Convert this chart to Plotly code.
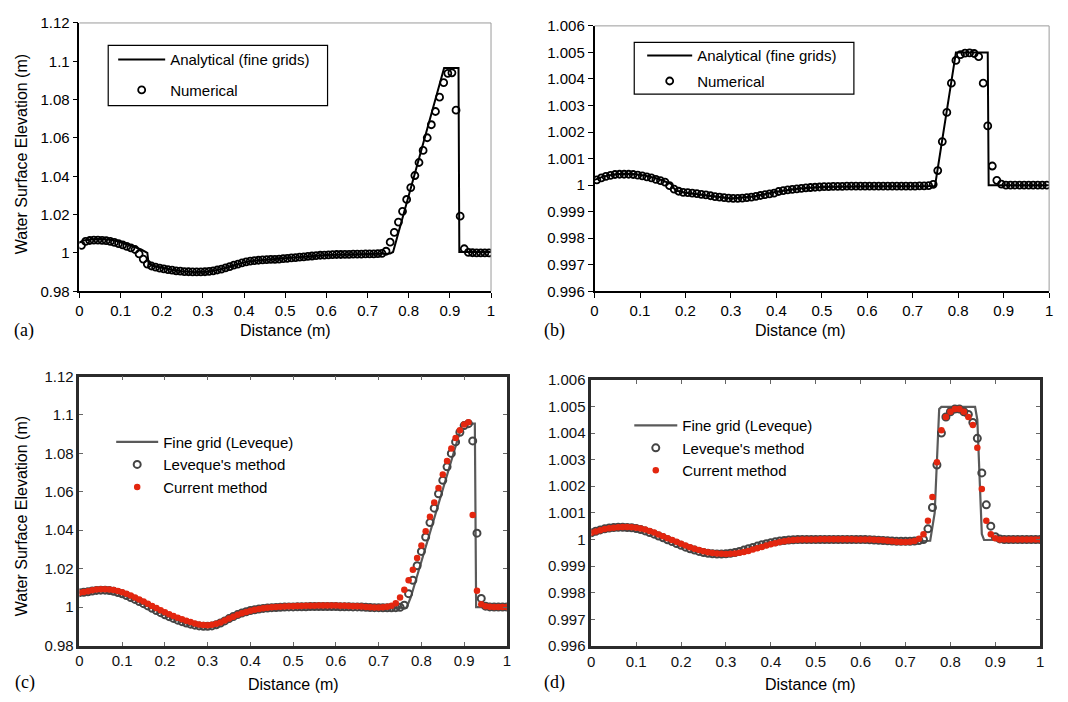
import plotly.graph_objects as go

W, H = 1068, 702

# ---------------- data ----------------
X_AB = [0.005, 0.015, 0.025, 0.035, 0.045, 0.055, 0.065, 0.075, 0.085, 0.095,
        0.105, 0.115, 0.125, 0.135, 0.145, 0.155, 0.165, 0.175, 0.185, 0.195,
        0.205, 0.215, 0.225, 0.235, 0.245, 0.255, 0.265, 0.275, 0.285, 0.295,
        0.305, 0.315, 0.325, 0.335, 0.345, 0.355, 0.365, 0.375, 0.385, 0.395,
        0.405, 0.415, 0.425, 0.435, 0.445, 0.455, 0.465, 0.475, 0.485, 0.495,
        0.505, 0.515, 0.525, 0.535, 0.545, 0.555, 0.565, 0.575, 0.585, 0.595,
        0.605, 0.615, 0.625, 0.635, 0.645, 0.655, 0.665, 0.675, 0.685, 0.695,
        0.705, 0.715, 0.725, 0.735, 0.745, 0.755, 0.765, 0.775, 0.785, 0.795,
        0.805, 0.815, 0.825, 0.835, 0.845, 0.855, 0.865, 0.875, 0.885, 0.895,
        0.905, 0.915, 0.925, 0.935, 0.945, 0.955, 0.965, 0.975, 0.985, 0.995]

A_NUM = [1.0040, 1.0060, 1.0065, 1.0067, 1.0067, 1.0066, 1.0064, 1.0060, 1.0055, 1.0049,
         1.0042, 1.0034, 1.0026, 1.0018, 0.9995, 0.9968, 0.9942, 0.9932, 0.9926, 0.9921,
         0.9917, 0.9913, 0.9910, 0.9907, 0.9905, 0.9903, 0.9902, 0.9901, 0.9901, 0.9901,
         0.9902, 0.9904, 0.9907, 0.9911, 0.9916, 0.9922, 0.9929, 0.9936, 0.9942, 0.9948,
         0.9953, 0.9957, 0.9960, 0.9962, 0.9964, 0.9965, 0.9966, 0.9967, 0.9968, 0.9970,
         0.9972, 0.9974, 0.9976, 0.9978, 0.9980, 0.9982, 0.9984, 0.9986, 0.9988, 0.9989,
         0.9990, 0.9991, 0.9992, 0.9992, 0.9993, 0.9993, 0.9994, 0.9994, 0.9994, 0.9995,
         0.9995, 0.9995, 0.9996, 0.9998, 1.0009, 1.0056, 1.0107, 1.0161, 1.0217, 1.0279,
         1.0341, 1.0404, 1.0472, 1.0535, 1.0601, 1.0669, 1.0738, 1.0813, 1.0889, 1.0937,
         1.0940, 1.0745, 1.0192, 1.0022, 1.0003, 1.0001, 1.0000, 1.0000, 1.0000, 1.0000]

A_LINE_X = [0, 0.01, 0.03, 0.05, 0.07, 0.09, 0.11, 0.13, 0.15, 0.165, 0.168, 0.18, 0.2, 0.22,
            0.25, 0.28, 0.31, 0.34, 0.37, 0.4, 0.43, 0.46, 0.5, 0.55, 0.6, 0.65, 0.7, 0.755,
            0.762, 0.886, 0.921, 0.923, 1.0]
A_LINE_Y = [1.0055, 1.0065, 1.0072, 1.0073, 1.0070, 1.0062, 1.0050, 1.0035, 1.0018, 1.0000,
            0.9945, 0.9932, 0.9922, 0.9914, 0.9905, 0.9900, 0.9902, 0.9913, 0.9932, 0.9951,
            0.9961, 0.9966, 0.9970, 0.9981, 0.9989, 0.9992, 0.9994, 0.9997, 1.0005, 1.0965,
            1.0965, 1.0005, 1.0005]

B_NUM = [1.00020, 1.00027, 1.00033, 1.00037, 1.00040, 1.00041, 1.00041, 1.00041, 1.00040, 1.00038,
         1.00035, 1.00031, 1.00027, 1.00022, 1.00017, 1.00011, 0.99998, 0.99985, 0.99977, 0.99973,
         0.99972, 0.99970, 0.99968, 0.99965, 0.99963, 0.99960, 0.99957, 0.99955, 0.99953, 0.99951,
         0.99950, 0.99950, 0.99951, 0.99953, 0.99955, 0.99958, 0.99961, 0.99964, 0.99967, 0.99970,
         0.99976, 0.99979, 0.99982, 0.99984, 0.99986, 0.99988, 0.99990, 0.99991, 0.99992, 0.99993,
         0.99994, 0.99994, 0.99995, 0.99995, 0.99995, 0.99996, 0.99996, 0.99996, 0.99996, 0.99996,
         0.99996, 0.99996, 0.99996, 0.99996, 0.99996, 0.99996, 0.99996, 0.99996, 0.99996, 0.99996,
         0.99996, 0.99997, 0.99997, 0.99998, 1.00003, 1.00055, 1.00164, 1.00274, 1.00384, 1.00470,
         1.00492, 1.00497, 1.00498, 1.00496, 1.00484, 1.00384, 1.00223, 1.00072, 1.00018, 1.00004,
         1.00000, 1.00000, 1.00000, 1.00000, 1.00000, 1.00000, 1.00000, 1.00000, 1.00000, 1.00000]

B_LINE_X = [0, 0.02, 0.05, 0.08, 0.11, 0.14, 0.168, 0.178, 0.2, 0.25, 0.3, 0.35, 0.4, 0.45,
            0.5, 0.6, 0.749, 0.795, 0.865, 0.867, 1.0]
B_LINE_Y = [1.00020, 1.00033, 1.00042, 1.00043, 1.00036, 1.00024, 1.00005, 0.99980, 0.99971,
            0.99960, 0.99950, 0.99957, 0.99975, 0.99987, 0.99993, 0.99996, 0.99997, 1.00500,
            1.00500, 1.00000, 1.00000]

X_CD = [0.00, 0.01, 0.02, 0.03, 0.04, 0.05, 0.06, 0.07, 0.08, 0.09,
        0.10, 0.11, 0.12, 0.13, 0.14, 0.15, 0.16, 0.17, 0.18, 0.19,
        0.20, 0.21, 0.22, 0.23, 0.24, 0.25, 0.26, 0.27, 0.28, 0.29,
        0.30, 0.31, 0.32, 0.33, 0.34, 0.35, 0.36, 0.37, 0.38, 0.39,
        0.40, 0.41, 0.42, 0.43, 0.44, 0.45, 0.46, 0.47, 0.48, 0.49,
        0.50, 0.51, 0.52, 0.53, 0.54, 0.55, 0.56, 0.57, 0.58, 0.59,
        0.60, 0.61, 0.62, 0.63, 0.64, 0.65, 0.66, 0.67, 0.68, 0.69,
        0.70, 0.71, 0.72, 0.73, 0.74, 0.75, 0.76, 0.77, 0.78, 0.79,
        0.80, 0.81, 0.82, 0.83, 0.84, 0.85, 0.86, 0.87, 0.88, 0.89,
        0.90, 0.91, 0.92, 0.93, 0.94, 0.95, 0.96, 0.97, 0.98, 0.99, 1.00]

C_CUR = [1.0075, 1.0078, 1.0083, 1.0088, 1.0091, 1.0093, 1.0093, 1.0092, 1.0089, 1.0084,
         1.0077, 1.0069, 1.0060, 1.0050, 1.0040, 1.0029, 1.0018, 1.0006, 0.9995, 0.9984,
         0.9973, 0.9963, 0.9954, 0.9945, 0.9937, 0.9929, 0.9922, 0.9915, 0.9910, 0.9907,
         0.9906, 0.9908, 0.9913, 0.9920, 0.9930, 0.9940, 0.9950, 0.9960, 0.9968, 0.9975,
         0.9981, 0.9986, 0.9990, 0.9994, 0.9997, 0.9999, 1.0001, 1.0002, 1.0003, 1.0004,
         1.0005, 1.0006, 1.0006, 1.0007, 1.0007, 1.0007, 1.0008, 1.0008, 1.0008, 1.0008,
         1.0008, 1.0007, 1.0007, 1.0006, 1.0005, 1.0004, 1.0003, 1.0001, 0.9999, 0.9998,
         0.9998, 0.9999, 1.0002, 1.0007, 1.0020, 1.0050, 1.0090, 1.0140, 1.0195, 1.0255,
         1.0320, 1.0395, 1.0470, 1.0545, 1.0620, 1.0690, 1.0760, 1.0825, 1.0880, 1.0920,
         1.0950, 1.0962, 1.0480, 1.0085, 1.0015, 1.0005, 1.0002, 1.0001, 1.0000, 1.0000, 1.0000]

C_LEV = [1.0075, 1.0077, 1.0080, 1.0084, 1.0087, 1.0088, 1.0088, 1.0086, 1.0082, 1.0076,
         1.0069, 1.0060, 1.0050, 1.0040, 1.0029, 1.0018, 1.0006, 0.9994, 0.9982, 0.9971,
         0.9960, 0.9950, 0.9941, 0.9932, 0.9924, 0.9917, 0.9911, 0.9906, 0.9902, 0.9900,
         0.9900, 0.9902, 0.9908, 0.9917, 0.9928, 0.9940, 0.9951, 0.9961, 0.9969, 0.9976,
         0.9982, 0.9986, 0.9990, 0.9993, 0.9995, 0.9997, 0.9998, 0.9999, 1.0000, 1.0001,
         1.0001, 1.0002, 1.0002, 1.0002, 1.0003, 1.0003, 1.0003, 1.0003, 1.0003, 1.0003,
         1.0003, 1.0002, 1.0002, 1.0002, 1.0001, 1.0001, 1.0000, 0.9999, 0.9998, 0.9997,
         0.9997, 0.9996, 0.9996, 0.9996, 0.9997, 0.9999, 1.0010, 1.0070, 1.0140, 1.0215,
         1.0290, 1.0365, 1.0440, 1.0515, 1.0590, 1.0660, 1.0730, 1.0800, 1.0860, 1.0910,
         1.0945, 1.0955, 1.0865, 1.0385, 1.0045, 1.0005, 1.0001, 1.0000, 1.0000, 1.0000, 1.0000]

C_LINE_X = [0, 0.025, 0.05, 0.075, 0.1, 0.125, 0.15, 0.175, 0.2, 0.225, 0.25, 0.275, 0.3, 0.325,
            0.35, 0.375, 0.4, 0.45, 0.5, 0.6, 0.7, 0.765, 0.775, 0.895, 0.905, 0.925, 0.928, 1.0]
C_LINE_Y = [1.0075, 1.0082, 1.0086, 1.0080, 1.0068, 1.0046, 1.0020, 0.9990, 0.9961, 0.9937,
            0.9918, 0.9904, 0.9900, 0.9906, 0.9936, 0.9960, 0.9976, 0.9995, 1.0001, 1.0002,
            0.9997, 0.9996, 1.0050, 1.0950, 1.0955, 1.0955, 1.0000, 1.0000]

D_CUR = [1.00025, 1.00030, 1.00035, 1.00039, 1.00042, 1.00044, 1.00046, 1.00047, 1.00047, 1.00046,
         1.00044, 1.00041, 1.00037, 1.00032, 1.00026, 1.00019, 1.00012, 1.00005, 0.99998, 0.99991,
         0.99984, 0.99977, 0.99971, 0.99965, 0.99960, 0.99956, 0.99952, 0.99949, 0.99947, 0.99946,
         0.99945, 0.99946, 0.99947, 0.99950, 0.99953, 0.99957, 0.99962, 0.99967, 0.99972, 0.99977,
         0.99982, 0.99986, 0.99990, 0.99993, 0.99996, 0.99998, 0.99999, 1.00000, 1.00000, 1.00000,
         1.00000, 1.00001, 1.00001, 1.00001, 1.00001, 1.00001, 1.00001, 1.00001, 1.00001, 1.00000,
         1.00000, 1.00000, 1.00000, 0.99999, 0.99998, 0.99997, 0.99995, 0.99993, 0.99991, 0.99990,
         0.99990, 0.99991, 0.99994, 1.00003, 1.00020, 1.00070, 1.00160, 1.00290, 1.00410, 1.00460,
         1.00480, 1.00490, 1.00490, 1.00480, 1.00460, 1.00430, 1.00345, 1.00190, 1.00070, 1.00020,
         1.00005, 1.00000, 1.00000, 1.00000, 1.00000, 1.00000, 1.00000, 1.00000, 1.00000, 1.00000, 1.00000]

D_LEV = [1.00025, 1.00031, 1.00036, 1.00040, 1.00043, 1.00045, 1.00046, 1.00046, 1.00045, 1.00044,
         1.00041, 1.00037, 1.00032, 1.00026, 1.00020, 1.00013, 1.00006, 0.99999, 0.99992, 0.99985,
         0.99978, 0.99971, 0.99965, 0.99960, 0.99955, 0.99951, 0.99948, 0.99946, 0.99945, 0.99945,
         0.99946, 0.99948, 0.99951, 0.99955, 0.99960, 0.99965, 0.99970, 0.99975, 0.99980, 0.99984,
         0.99988, 0.99991, 0.99994, 0.99996, 0.99998, 0.99999, 1.00000, 1.00000, 1.00000, 1.00000,
         1.00000, 1.00000, 1.00000, 1.00000, 1.00000, 1.00000, 1.00000, 1.00000, 1.00000, 1.00000,
         1.00000, 1.00000, 0.99999, 0.99998, 0.99997, 0.99996, 0.99995, 0.99994, 0.99993, 0.99993,
         0.99993, 0.99993, 0.99994, 0.99996, 1.00000, 1.00040, 1.00120, 1.00280, 1.00400, 1.00460,
         1.00480, 1.00490, 1.00490, 1.00480, 1.00470, 1.00440, 1.00380, 1.00250, 1.00130, 1.00050,
         1.00010, 1.00002, 1.00000, 1.00000, 1.00000, 1.00000, 1.00000, 1.00000, 1.00000, 1.00000, 1.00000]

D_LINE_X = [0, 0.025, 0.05, 0.075, 0.1, 0.125, 0.15, 0.175, 0.2, 0.225, 0.25, 0.275, 0.3, 0.325,
            0.35, 0.375, 0.4, 0.45, 0.5, 0.6, 0.7, 0.755, 0.765, 0.775, 0.78, 0.855, 0.86, 0.87,
            0.875, 1.0]
D_LINE_Y = [1.00025, 1.00036, 1.00044, 1.00046, 1.00043, 1.00033, 1.00019, 1.00001, 0.99983,
            0.99967, 0.99955, 0.99948, 0.99945, 0.99948, 0.99957, 0.99970, 0.99982, 0.99998,
            1.00000, 1.00000, 0.99993, 0.99995, 1.00100, 1.00490, 1.00498, 1.00498, 1.00450,
            1.00020, 0.99998, 1.00000]

X_TICKS = [0, 0.1, 0.2, 0.3, 0.4, 0.5, 0.6, 0.7, 0.8, 0.9, 1]
X_TICKTEXT = ["0", "0.1", "0.2", "0.3", "0.4", "0.5", "0.6", "0.7", "0.8", "0.9", "1"]
Y_TICKS_AC = [0.98, 1.0, 1.02, 1.04, 1.06, 1.08, 1.1, 1.12]
Y_TICKTEXT_AC = ["0.98", "1", "1.02", "1.04", "1.06", "1.08", "1.1", "1.12"]
Y_TICKS_BD = [0.996, 0.997, 0.998, 0.999, 1.0, 1.001, 1.002, 1.003, 1.004, 1.005, 1.006]
Y_TICKTEXT_BD = ["0.996", "0.997", "0.998", "0.999", "1", "1.001", "1.002", "1.003",
                 "1.004", "1.005", "1.006"]

# ---------------- layout helpers ----------------
FONT = "Liberation Sans, Arial, sans-serif"
SERIF = "Liberation Serif, Times New Roman, serif"


def px_x(v):
    return v / W


def px_y(v):
    return 1 - v / H


DOM = {
    "a": ([76, 490.7], [289.3, 14.3]),
    "b": ([595, 1053], [289.3, 17.3]),
    "c": ([76, 506.7], [652.3, 376.7]),
    "d": ([591.7, 1044], [652.7, 380]),
}


def dom(key):
    xs, ys = DOM[key]
    return [px_x(xs[0]), px_x(xs[1])], [px_y(ys[0]), px_y(ys[1])]


def axis_ab(domain, anchor, tickvals, ticktext, rng):
    return dict(domain=domain, anchor=anchor, range=rng, showline=True, linecolor="black",
                linewidth=1.5, ticks="outside", ticklen=5, tickwidth=1.2, tickcolor="black",
                showgrid=False, zeroline=False, tickvals=tickvals, ticktext=ticktext,
                tickfont=dict(family=FONT, size=15, color="black"), mirror=False)


def axis_cd(domain, anchor, tickvals, ticktext, rng):
    return dict(domain=domain, anchor=anchor, range=rng, showline=True, linecolor="#2b2b2b",
                linewidth=2.5, ticks="inside", ticklen=4, tickwidth=1, tickcolor="#666666",
                showgrid=False, zeroline=False, tickvals=tickvals, ticktext=ticktext,
                tickfont=dict(family=FONT, size=15, color="#111111"), mirror="ticks")


fig = go.Figure()

# (a)
fig.add_trace(go.Scatter(x=A_LINE_X, y=A_LINE_Y, mode="lines", name="Analytical (fine grids)",
                         line=dict(color="black", width=2), xaxis="x", yaxis="y",
                         legend="legend", legendgroup="a1"))
fig.add_trace(go.Scatter(x=X_AB, y=A_NUM, mode="markers", name="Numerical",
                         marker=dict(symbol="circle-open", size=7, color="black",
                                     line=dict(width=1.8, color="black")),
                         xaxis="x", yaxis="y", legend="legend", legendgroup="a2"))
# (b)
fig.add_trace(go.Scatter(x=B_LINE_X, y=B_LINE_Y, mode="lines", name="Analytical (fine grids)",
                         line=dict(color="black", width=2), xaxis="x2", yaxis="y2",
                         legend="legend2", legendgroup="b1"))
fig.add_trace(go.Scatter(x=X_AB, y=B_NUM, mode="markers", name="Numerical",
                         marker=dict(symbol="circle-open", size=7, color="black",
                                     line=dict(width=1.8, color="black")),
                         xaxis="x2", yaxis="y2", legend="legend2", legendgroup="b2"))
# (c)
fig.add_trace(go.Scatter(x=C_LINE_X, y=C_LINE_Y, mode="lines", name="Fine grid (Leveque)",
                         line=dict(color="#5a5a5a", width=2.2), xaxis="x3", yaxis="y3",
                         legend="legend3", legendgroup="c1"))
fig.add_trace(go.Scatter(x=X_CD, y=C_LEV, mode="markers", name="Leveque's method",
                         marker=dict(symbol="circle-open", size=7, color="#444444",
                                     line=dict(width=2, color="#444444")),
                         xaxis="x3", yaxis="y3", legend="legend3", legendgroup="c2"))
fig.add_trace(go.Scatter(x=X_CD, y=C_CUR, mode="markers", name="Current method",
                         marker=dict(symbol="circle", size=6.5, color="#e3260f"),
                         xaxis="x3", yaxis="y3", legend="legend3", legendgroup="c3"))
# (d)
fig.add_trace(go.Scatter(x=D_LINE_X, y=D_LINE_Y, mode="lines", name="Fine grid (Leveque)",
                         line=dict(color="#5a5a5a", width=2.2), xaxis="x4", yaxis="y4",
                         legend="legend4", legendgroup="d1"))
fig.add_trace(go.Scatter(x=X_CD, y=D_LEV, mode="markers", name="Leveque's method",
                         marker=dict(symbol="circle-open", size=7, color="#444444",
                                     line=dict(width=2, color="#444444")),
                         xaxis="x4", yaxis="y4", legend="legend4", legendgroup="d2"))
fig.add_trace(go.Scatter(x=X_CD, y=D_CUR, mode="markers", name="Current method",
                         marker=dict(symbol="circle", size=6.5, color="#e3260f"),
                         xaxis="x4", yaxis="y4", legend="legend4", legendgroup="d3"))

da_x, da_y = dom("a")
db_x, db_y = dom("b")
dc_x, dc_y = dom("c")
dd_x, dd_y = dom("d")

layout = dict(
    width=W, height=H, margin=dict(l=0, r=0, t=0, b=0),
    paper_bgcolor="white", plot_bgcolor="white",
    font=dict(family=FONT, size=15, color="black"),
    xaxis=axis_ab(da_x, "y", X_TICKS, X_TICKTEXT, [0, 1]),
    yaxis=axis_ab(da_y, "x", Y_TICKS_AC, Y_TICKTEXT_AC, [0.98, 1.12]),
    xaxis2=axis_ab(db_x, "y2", X_TICKS, X_TICKTEXT, [0, 1]),
    yaxis2=axis_ab(db_y, "x2", Y_TICKS_BD, Y_TICKTEXT_BD, [0.996, 1.006]),
    xaxis3=axis_cd(dc_x, "y3", X_TICKS, X_TICKTEXT, [0, 1]),
    yaxis3=axis_cd(dc_y, "x3", Y_TICKS_AC, Y_TICKTEXT_AC, [0.98, 1.12]),
    xaxis4=axis_cd(dd_x, "y4", X_TICKS, X_TICKTEXT, [0, 1]),
    yaxis4=axis_cd(dd_y, "x4", Y_TICKS_BD, Y_TICKTEXT_BD, [0.996, 1.006]),
    showlegend=True,
)


def legend_cfg(x, y, itemwidth, gap):
    return dict(x=px_x(x), y=px_y(y), xanchor="left", yanchor="top", bgcolor="rgba(0,0,0,0)",
                borderwidth=0, itemwidth=itemwidth, tracegroupgap=gap, traceorder="grouped",
                font=dict(family=FONT, size=15, color="black"), itemclick=False)


layout["legend"] = legend_cfg(110, 35, 47, 8)
layout["legend2"] = legend_cfg(643, 31, 45, 3)
layout["legend3"] = legend_cfg(108, 427, 42, 0)
layout["legend4"] = legend_cfg(630, 410, 43, 0)

shapes = []
# gray top/right border for (a),(b)
for xr, yr in (("x domain", "y domain"), ("x2 domain", "y2 domain")):
    shapes.append(dict(type="line", xref=xr, yref=yr, x0=0, x1=1, y0=1, y1=1,
                       line=dict(color="#9a9a9a", width=1)))
    shapes.append(dict(type="line", xref=xr, yref=yr, x0=1, x1=1, y0=0, y1=1,
                       line=dict(color="#9a9a9a", width=1)))
# legend boxes of (a),(b)
shapes.append(dict(type="rect", xref="paper", yref="paper", x0=px_x(105), x1=px_x(326),
                   y0=px_y(99), y1=px_y(37.3), line=dict(color="black", width=1.2)))
shapes.append(dict(type="rect", xref="paper", yref="paper", x0=px_x(635), x1=px_x(856.3),
                   y0=px_y(87.3), y1=px_y(34.3), line=dict(color="black", width=1.2)))
layout["shapes"] = shapes

ann = []


def text(x, y, s, size=16, family=FONT, angle=0):
    ann.append(dict(x=px_x(x), y=px_y(y), xref="paper", yref="paper", text=s, showarrow=False,
                    xanchor="center", yanchor="middle", textangle=angle,
                    font=dict(family=family, size=size, color="black")))


text(284, 329, "Distance (m)")
text(803, 329, "Distance (m)")
text(291.7, 692, "Distance (m)")
text(812.8, 692, "Distance (m)")
text(18, 149, "Water Surface Elevation (m)", angle=-90)
text(18, 520, "Water Surface Elevation (m)", angle=-90)
text(20, 329, "(a)", size=18, family=SERIF)
text(555, 329, "(b)", size=18, family=SERIF)
text(21, 690, "(c)", size=18, family=SERIF)
text(555, 690, "(d)", size=18, family=SERIF)
layout["annotations"] = ann

fig.update_layout(**layout)
fig.write_html("out.html")
